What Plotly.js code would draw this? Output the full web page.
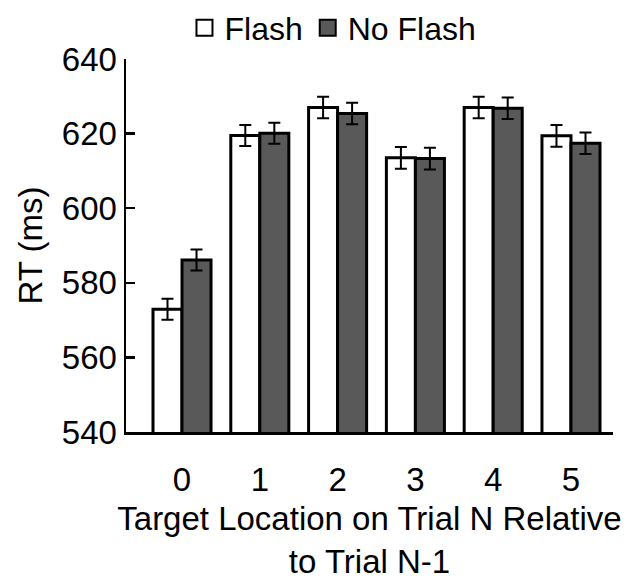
<!DOCTYPE html>
<html>
<head>
<meta charset="utf-8">
<script src="https://cdn.plot.ly/plotly-3.0.1.min.js"></script>
<style>html,body{margin:0;padding:0;background:#fff;overflow:hidden}.w{position:absolute;left:0;top:0;width:638px;height:580px;transform:scale(1);transform-origin:0 0}</style>
</head>
<body>
<div class="w"><div id="chart"></div></div>
<script>
const categories = [0, 1, 2, 3, 4, 5];
const tickLabels = ["0", "1", "2", "3", "4", "5"];
const flashRT = [572.9, 619.5, 627.0, 613.5, 627.0, 619.4];
const flashErr = [2.8, 2.8, 2.9, 2.9, 2.9, 2.9];
const noFlashRT = [586.1, 620.1, 625.4, 613.3, 626.8, 617.4];
const noFlashErr = [2.8, 2.8, 2.9, 2.9, 2.9, 2.9];
const seriesNames = ["Flash", "No Flash"];
const yTicks = [540, 560, 580, 600, 620, 640];

const FONT = "Liberation Sans, Arial, Helvetica, sans-serif";
const errStyle = {type: "data", visible: true, color: "#000", thickness: 2, width: 6};

const traces = [
  {type: "bar", x: categories, y: flashRT, name: seriesNames[0], showlegend: false,
   marker: {color: "#ffffff", line: {color: "#000", width: 3}},
   error_y: Object.assign({array: flashErr}, errStyle)},
  {type: "bar", x: categories, y: noFlashRT, name: seriesNames[1], showlegend: false,
   marker: {color: "#595959", line: {color: "#000", width: 3}},
   error_y: Object.assign({array: noFlashErr}, errStyle)},
  {type: "scatter", mode: "markers", x: [null], y: [null], name: seriesNames[0],
   marker: {symbol: "square", size: 16, color: "#ffffff", line: {color: "#000", width: 2}}},
  {type: "scatter", mode: "markers", x: [null], y: [null], name: seriesNames[1],
   marker: {symbol: "square", size: 16, color: "#595959", line: {color: "#000", width: 2}}}
];

const layout = {
  width: 638, height: 580,
  margin: {l: 126, r: 25, t: 59, b: 148, autoexpand: false},
  paper_bgcolor: "#fff", plot_bgcolor: "#fff",
  font: {family: FONT, size: 33, color: "#000"},
  barmode: "group", bargap: 0.254, bargroupgap: 0,
  showlegend: true,
  legend: {orientation: "h", x: 0.425, xanchor: "center", y: 1.083, yanchor: "middle",
           font: {size: 32}, itemwidth: 30, tracegroupgap: 0, bgcolor: "rgba(0,0,0,0)"},
  xaxis: {
    range: [-0.72, 5.54], tickmode: "array", tickvals: categories, ticktext: tickLabels,
    ticks: "", showgrid: false, zeroline: false, showline: true, linecolor: "#000", linewidth: 2.5,
    tickfont: {size: 33}, ticklabelstandoff: 17,
    title: {text: "Target Location on Trial N Relative<br>to Trial N-1", font: {size: 33}, standoff: 24}
  },
  yaxis: {
    range: [540, 640], tickmode: "array", tickvals: yTicks,
    ticks: "inside", ticklen: 9, tickwidth: 2.5, tickcolor: "#000",
    showgrid: false, zeroline: false, showline: true, linecolor: "#000", linewidth: 2.5,
    tickfont: {size: 33},
    title: {text: "RT (ms)", font: {size: 33}, standoff: 10}
  }
};

Plotly.newPlot("chart", traces, layout, {displayModeBar: false, staticPlot: true});
</script>
</body>
</html>
